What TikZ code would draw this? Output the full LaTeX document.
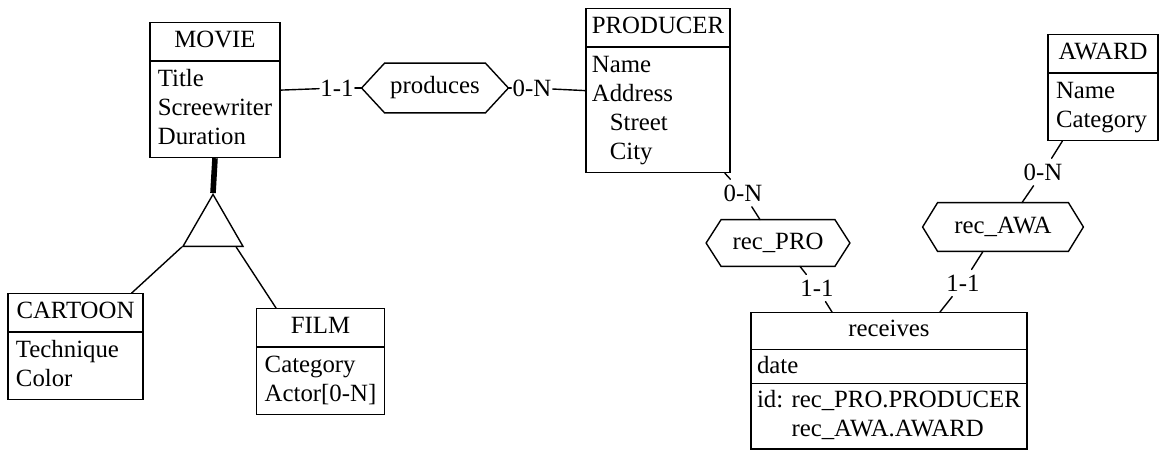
\documentclass[tikz,border=0pt]{standalone}
\usepackage{fontspec}
\setmainfont{Liberation Serif}
\usetikzlibrary{calc,shapes.multipart,shapes.geometric}
\newcommand{\erfont}{\fontsize{12.4}{14.5}\selectfont}
\newcommand{\attrs}[1]{\begin{tabular}{@{}l@{}}#1\end{tabular}}
% hexagon outline round a relationship node
\newcommand{\hexoutline}[2]{%
  \draw[conn] (#1.west) -- ([xshift=#2]#1.north west) -- ([xshift=-#2]#1.north east)
    -- (#1.east) -- ([xshift=-#2]#1.south east) -- ([xshift=#2]#1.south west) -- cycle;}
\tikzset{
  conn/.style   ={line width=0.7pt, line cap=round},
  entity/.style ={draw, conn, rectangle split, rectangle split parts=2,
                  rectangle split part align={center,left}, inner xsep=4pt,
                  inner ysep=2pt, anchor=north, font=\erfont},
  rel/.style    ={inner sep=0pt, minimum height=24pt, font=\erfont},
  card/.style   ={inner sep=2.5pt, font=\erfont},
  isatri/.style ={draw, conn, regular polygon, regular polygon sides=3,
                  inner sep=0pt, minimum size=34.6pt},
}

\begin{document}
\begin{tikzpicture}[x=0.5pt, y=-0.5pt]
  \useasboundingbox (0,0) rectangle (1167,452);
  \fill[white] (0,0) rectangle (1167,452);
  % entities
  \node[entity, minimum width=65pt] (movie) at (215,22)
    {\strut MOVIE\nodepart{two}\attrs{Title\\Screewriter\\Duration}};
  \node[entity, inner xsep=3pt, minimum width=70pt] (pro) at (658,8)
    {\strut PRODUCER\nodepart{two}\attrs{Name\\Address\\\hspace*{9pt}Street\\\hspace*{9pt}City}};
  \node[entity, minimum width=55pt] (award) at (1103,34)
    {\strut AWARD\nodepart{two}\attrs{Name\\Category}};
  \node[entity, minimum width=67.5pt] (cartoon) at (75.5,293)
    {\strut CARTOON\nodepart{two}\attrs{Technique\\Color}};
  \node[entity, minimum width=62.5pt] (film) at (320.5,308)
    {\strut FILM\nodepart{two}\attrs{Category\\Actor[0-N]}};
  \node[entity, rectangle split parts=3, rectangle split part align={center,left,left},
        inner xsep=3pt, inner ysep=1.6pt, minimum width=136pt] (rcv) at (889,312)
    {\strut receives\nodepart{two}\rule[-3pt]{0pt}{13pt}date%
     \nodepart{three}\begin{tabular}{@{}l@{ }l@{}}id:& rec\_PRO.PRODUCER\\& rec\_AWA.AWARD\end{tabular}};
  % relationships
  \node[rel, minimum width=73pt, minimum height=24.5pt] (prod) at (435,88) {produces};
  \hexoutline{prod}{11.5pt}
  \node[rel, minimum width=71.5pt, minimum height=23pt] (recpro) at (778,243) {rec\_PRO};
  \hexoutline{recpro}{7.5pt}
  \node[rel, minimum width=80pt] (recawa) at (1003,227) {rec\_AWA};
  \hexoutline{recawa}{7.5pt}
  % is-a
  \node[isatri] (isa) at (213,229) {};
  \draw[line width=2.8pt] (movie.south) -- (isa.corner 1);
  \draw[conn] (isa.corner 2) -- ($(cartoon.north east)+(-12,0)$);
  \draw[conn] ($(isa.corner 3)+(-8,0)$) -- ($(film.north west)+(20,0)$);
  % cardinalities
  \node[card, inner xsep=0.5pt] (c1) at (337,88) {1-1};
  \node[card, inner xsep=0.5pt] (c2) at (532,88) {0-N};
  \node[card] (c3) at (743,193) {0-N};
  \node[card] (c4) at (817,288) {1-1};
  \node[card] (c5) at (1043,172) {0-N};
  \node[card] (c6) at (963,283) {1-1};
  \draw[conn] (movie.east) -- (c1);
  \draw[conn] (c1) -- (prod.west);
  \draw[conn] (prod.east) -- (c2);
  \draw[conn] (c2) -- (pro.west);
  \draw[conn] ($(pro.south east)+(-6,0)$) -- (c3);
  \draw[conn] (c3) -- ($(recpro.north)+(-18,0)$);
  \draw[conn] ($(recpro.south)+(22,0)$) -- (c4);
  \draw[conn] (c4) -- ($(rcv.north)+(-57,0)$);
  \draw[conn] ($(award.south west)+(15,0)$) -- (c5);
  \draw[conn] (c5) -- ($(recawa.north)+(19,0)$);
  \draw[conn] ($(recawa.south)+(-20,0)$) -- (c6);
  \draw[conn] (c6) -- ($(rcv.north)+(51,0)$);
\end{tikzpicture}
\end{document}
